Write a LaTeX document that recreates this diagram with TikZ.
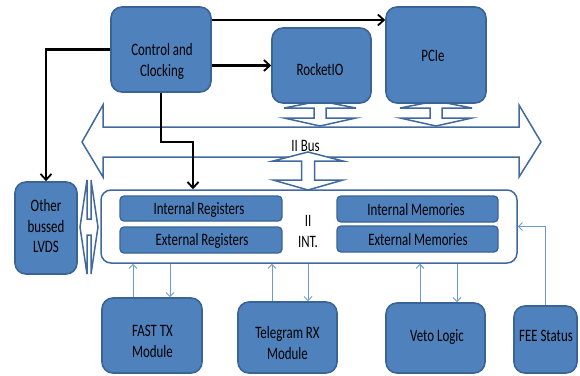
\documentclass[tikz,border=0pt]{standalone}
\usepackage{fontspec}
\setmainfont{Carlito}
\usepackage{graphicx}
\usetikzlibrary{arrows.meta}
\definecolor{boxfill}{HTML}{4F81BD}
\definecolor{boxdraw}{HTML}{3A6496}
\definecolor{busdraw}{HTML}{41699E}
\definecolor{thinblue}{HTML}{6C9BD2}
\newcommand\vtxt[1]{\scalebox{1}[1.35]{\fontsize{12.9}{15}\selectfont\begin{tabular}{@{}c@{}}#1\end{tabular}}}
\begin{document}
\begin{tikzpicture}[x=1pt,y=-1pt,
  box/.style={draw=boxdraw, fill=boxfill, line width=1.6pt, rounded corners=11pt, inner sep=0pt},
  reg/.style={draw=boxdraw, fill=boxfill, line width=1.3pt, rounded corners=4pt, inner sep=0pt},
  frame/.style={draw=busdraw, fill=white, line width=1.5pt, rounded corners=10pt, inner sep=0pt},
  busarrow/.style={draw=busdraw, fill=white, line width=1.5pt, line join=miter},
  lbl/.style={inner sep=0pt, text=black},
  blk/.style={draw=black, line width=2.2pt, -{Straight Barb[length=6pt,width=11pt,line width=1.8pt]}},
  thn/.style={draw=thinblue, line width=1pt, -{Straight Barb[length=4pt,width=8pt,line width=1pt]}}
]
\useasboundingbox (0,0) rectangle (580,375);

% II bus (double-headed big arrow)
\draw[busarrow] (82,142) -- (103,105) -- (103,127) -- (519,127) -- (519,105) -- (541,142)
  -- (519,177) -- (519,157) -- (103,157) -- (103,177) -- cycle;
\node[lbl] (busT) at (305.5,147) {\vtxt{II Bus}};

% small vertical double arrows
\draw[busarrow] (320,101) -- (356,108) -- (326,108) -- (326,118) -- (356,118) -- (320,126)
  -- (284,118) -- (314,118) -- (314,108) -- (284,108) -- cycle;
\draw[busarrow] (436,101) -- (472,108) -- (442,108) -- (442,118) -- (472,118) -- (436,126)
  -- (400,118) -- (430,118) -- (430,108) -- (400,108) -- cycle;
\draw[busarrow] (308,152) -- (343,161) -- (314.5,161) -- (314.5,180) -- (343,180) -- (308,190)
  -- (273,180) -- (301.5,180) -- (301.5,161) -- (273,161) -- cycle;
% small horizontal double arrow (LVDS <-> INT)
\draw[busarrow] (80,227) -- (87,180) -- (87,219) -- (91,219) -- (91,180) -- (98,227)
  -- (91,274) -- (91,235) -- (87,235) -- (87,274) -- cycle;

% top boxes
\node[box, minimum width=100pt, minimum height=85pt] (ctrl) at (161,49.5) {};
\node[lbl] (ctrlT) at (162,62) {\vtxt{Control and\\Clocking}};
\node[box, minimum width=99pt, minimum height=75pt] (rio) at (321.5,65.5) {};
\node[lbl] (rioT) at (320,71.5) {\vtxt{RocketIO}};
\node[box, minimum width=100pt, minimum height=96pt] (pcie) at (436,55) {};
\node[lbl] (pcieT) at (433,57) {\vtxt{PCIe}};

% LVDS
\node[box, minimum width=62pt, minimum height=92pt] (lvds) at (46,228) {};
\node[lbl] (lvdsT) at (46,228) {\vtxt{Other\\bussed\\LVDS}};

% interface frame
\node[frame, minimum width=416pt, minimum height=73pt] (int) at (309,226.5) {};
\node[reg, minimum width=162pt, minimum height=25pt] (ireg) at (201,208.5) {};
\node[lbl] (iregT) at (199,210) {\vtxt{Internal Registers}};
\node[reg, minimum width=162pt, minimum height=26pt] (ereg) at (201,240) {};
\node[lbl] (eregT) at (202,241) {\vtxt{External Registers}};
\node[reg, minimum width=161pt, minimum height=26pt] (imem) at (417.5,209) {};
\node[lbl] (imemT) at (416,211) {\vtxt{Internal Memories}};
\node[reg, minimum width=161pt, minimum height=26pt] (emem) at (417.5,239) {};
\node[lbl] (ememT) at (418,241) {\vtxt{External Memories}};
\node[lbl] (intT) at (308,233) {\vtxt{II\\INT.}};

% bottom boxes
\node[box, minimum width=100pt, minimum height=75pt] (fast) at (152,335.5) {};
\node[lbl] (fastT) at (152.5,343) {\vtxt{FAST TX\\Module}};
\node[box, minimum width=99pt, minimum height=71pt] (tele) at (287.5,337.5) {};
\node[lbl] (teleT) at (287.5,345) {\vtxt{Telegram RX\\Module}};
\node[box, minimum width=99pt, minimum height=70pt] (veto) at (435.5,338) {};
\node[lbl] (vetoT) at (437,337) {\vtxt{Veto Logic}};
\node[box, minimum width=63pt, minimum height=67pt] (fee) at (545.5,339.5) {};
\node[lbl] (feeT) at (546,337) {\vtxt{FEE Status}};

% black control connectors
\coordinate (c1) at ([yshift=29.5pt]ctrl.east);
\draw[blk] (c1) -- (c1 -| pcie.west);
\draw[blk] (ctrl.east |- rio.west) -- (rio.west);
\draw[blk] (ctrl.west) -| (lvds.north);
\coordinate (c2) at ([xshift=-116pt]int.north);
\draw[blk] (ctrl.south) -- ++(0,49) -| (c2);

% thin blue connectors
\coordinate (f1) at ([xshift=-19pt]fast.north);
\coordinate (f2) at ([xshift=18pt]fast.north);
\draw[thn] (f1) -- (f1 |- int.south);
\draw[thn] (f2 |- int.south) -- (f2);
\coordinate (t1) at ([xshift=-15.5pt]tele.north);
\coordinate (t2) at ([xshift=20.5pt]tele.north);
\draw[thn] (t1) -- (t1 |- int.south);
\draw[thn] (t2 |- int.south) -- (t2);
\coordinate (v1) at ([xshift=-15.5pt]veto.north);
\coordinate (v2) at ([xshift=21.5pt]veto.north);
\draw[thn] (v1) -- (v1 |- int.south);
\draw[thn] (v2 |- int.south) -- (v2);
\draw[thn] (fee.north) |- (int.east);
\end{tikzpicture}
\end{document}
